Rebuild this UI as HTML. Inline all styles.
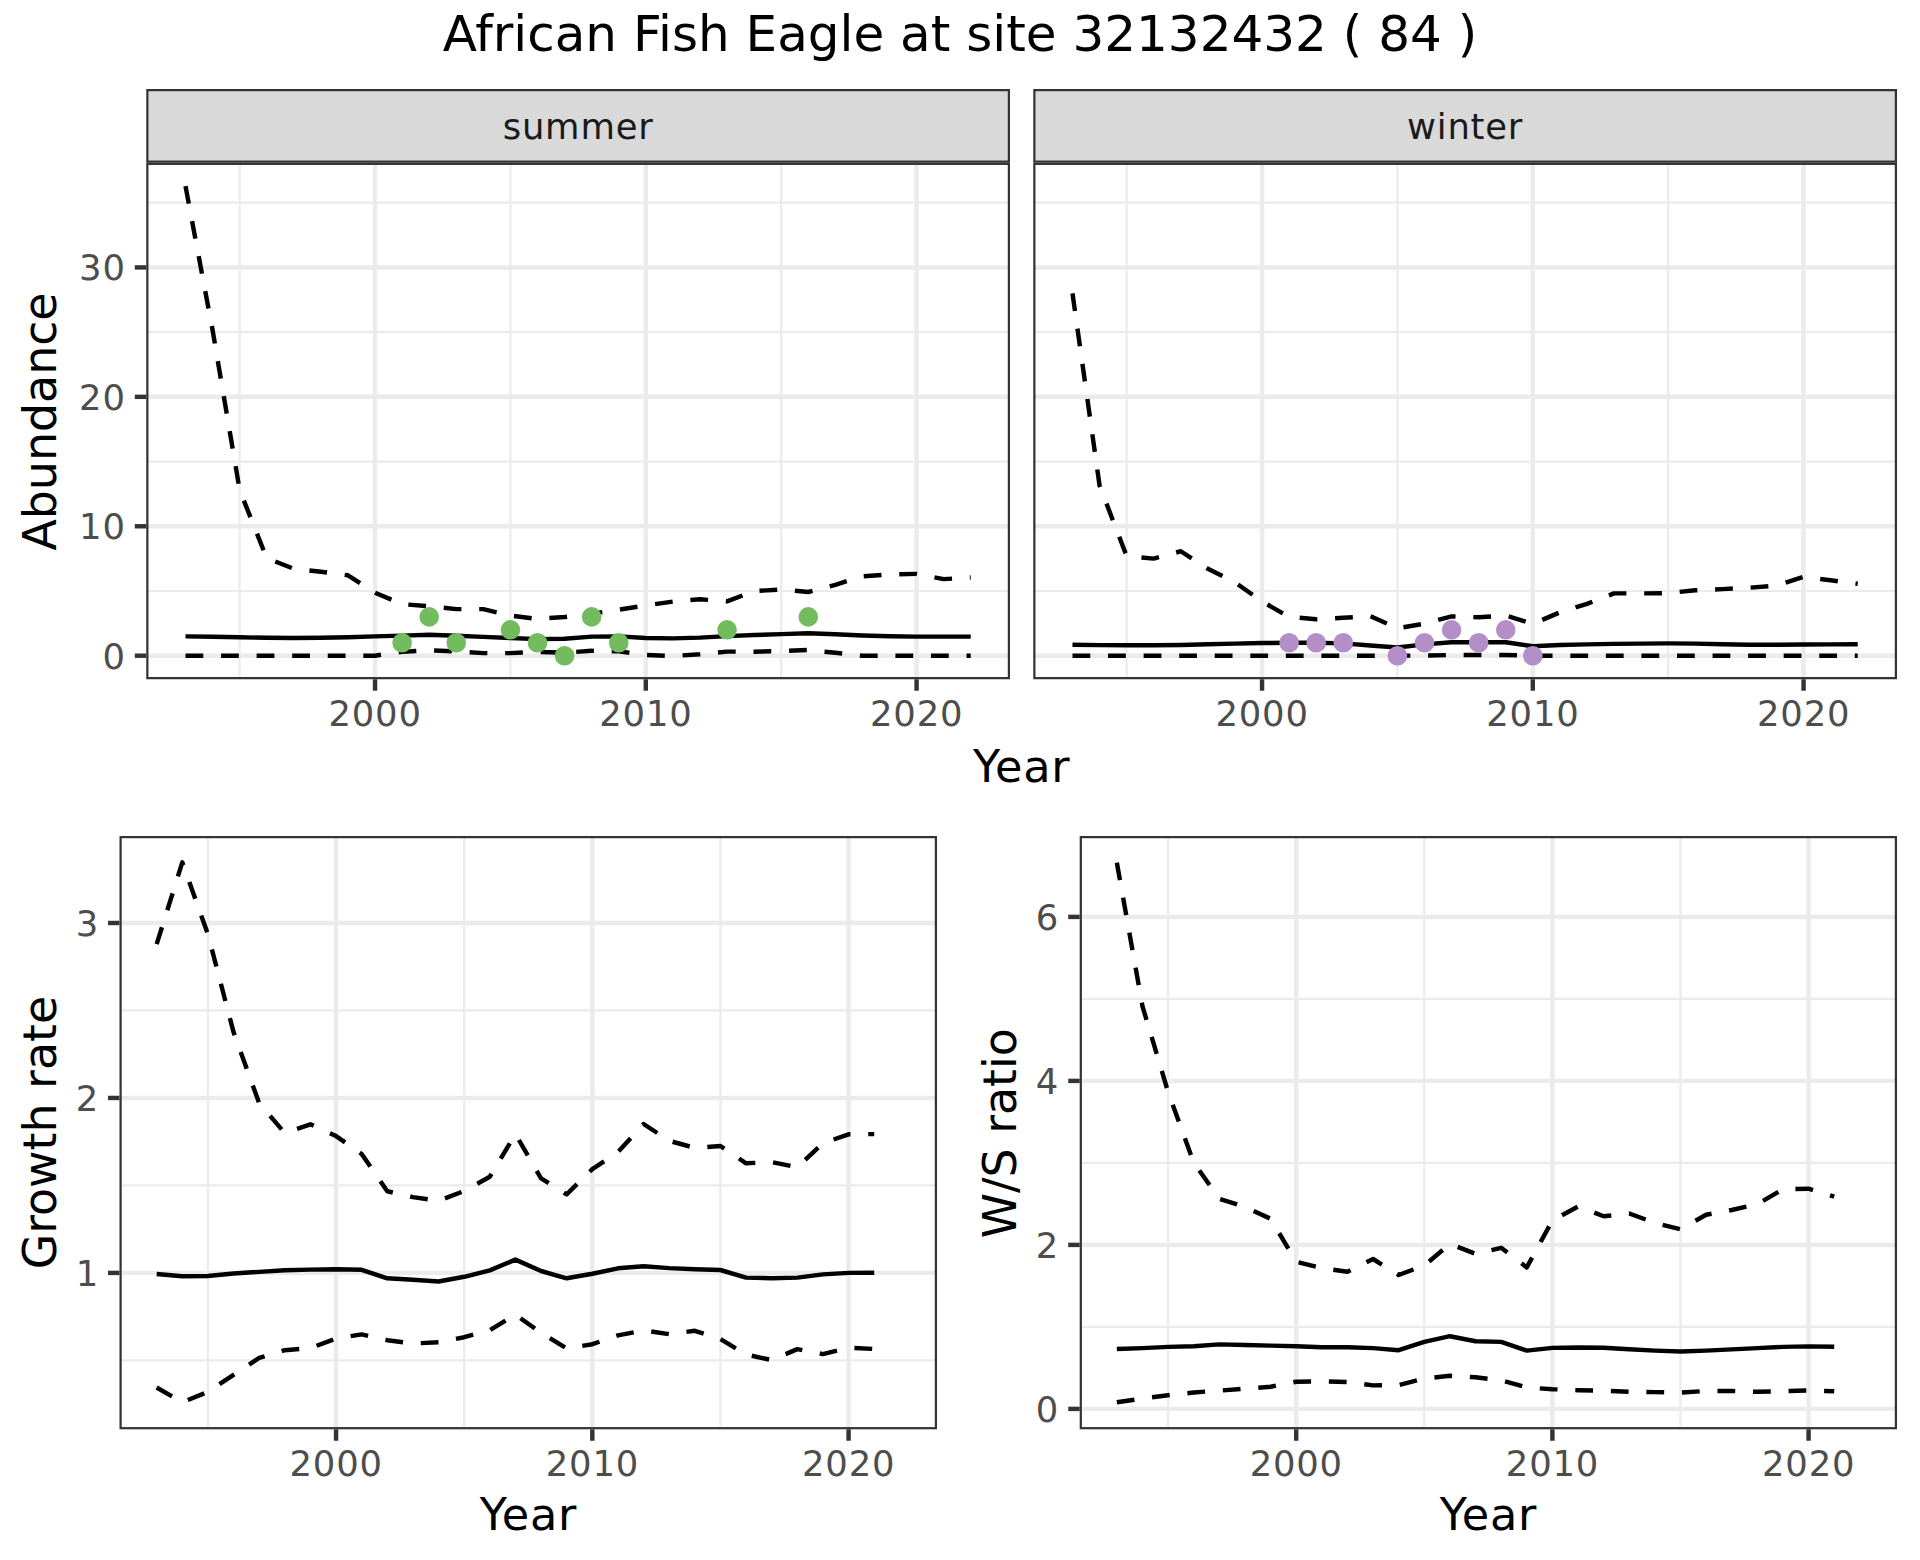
<!DOCTYPE html>
<html lang="en"><head><meta charset="utf-8"><title>African Fish Eagle at site 32132432</title>
<style>html,body{margin:0;padding:0;background:#fff}body{width:1920px;height:1560px;overflow:hidden}svg{display:block}text{font-family:'DejaVu Sans','Liberation Sans',sans-serif}</style>
</head><body>
<svg width="1920" height="1560" viewBox="0 0 1920 1560">
<rect width="1920" height="1560" fill="#fff"/>
<text x="960" y="51.1" text-anchor="middle" font-size="50" fill="#000">African Fish Eagle at site 32132432 ( 84 )</text>
<g>
<rect x="146.25" y="162.75" width="863.75" height="516.5" fill="#fff"/>
<line x1="146.25" x2="1010" y1="590.99" y2="590.99" stroke="#EBEBEB" stroke-width="2.22"/>
<line x1="146.25" x2="1010" y1="461.56" y2="461.56" stroke="#EBEBEB" stroke-width="2.22"/>
<line x1="146.25" x2="1010" y1="332.13" y2="332.13" stroke="#EBEBEB" stroke-width="2.22"/>
<line x1="146.25" x2="1010" y1="202.7" y2="202.7" stroke="#EBEBEB" stroke-width="2.22"/>
<line x1="239.65" x2="239.65" y1="162.75" y2="679.25" stroke="#EBEBEB" stroke-width="2.22"/>
<line x1="510.42" x2="510.42" y1="162.75" y2="679.25" stroke="#EBEBEB" stroke-width="2.22"/>
<line x1="781.19" x2="781.19" y1="162.75" y2="679.25" stroke="#EBEBEB" stroke-width="2.22"/>
<line x1="146.25" x2="1010" y1="655.7" y2="655.7" stroke="#EBEBEB" stroke-width="4.44"/>
<line x1="146.25" x2="1010" y1="526.27" y2="526.27" stroke="#EBEBEB" stroke-width="4.44"/>
<line x1="146.25" x2="1010" y1="396.84" y2="396.84" stroke="#EBEBEB" stroke-width="4.44"/>
<line x1="146.25" x2="1010" y1="267.41" y2="267.41" stroke="#EBEBEB" stroke-width="4.44"/>
<line x1="375.04" x2="375.04" y1="162.75" y2="679.25" stroke="#EBEBEB" stroke-width="4.44"/>
<line x1="645.81" x2="645.81" y1="162.75" y2="679.25" stroke="#EBEBEB" stroke-width="4.44"/>
<line x1="916.58" x2="916.58" y1="162.75" y2="679.25" stroke="#EBEBEB" stroke-width="4.44"/>
<polyline points="185.5,636.4 212.58,636.8 239.65,637.3 266.73,637.8 293.81,638 320.88,637.8 347.96,637.2 375.04,636.4 402.12,635.6 429.19,634.8 456.27,635.8 483.35,636.9 510.42,638 537.5,639.1 564.58,638.75 591.65,636.6 618.73,636.4 645.81,638 672.89,638.4 699.96,637.6 727.04,636.1 754.12,635 781.19,634.1 808.27,633.3 835.35,634.2 862.43,635.5 889.5,636.25 916.58,636.6 943.66,636.6 970.73,636.6" fill="none" stroke="#000" stroke-width="4.44" stroke-linejoin="round" stroke-linecap="butt"/>
<polyline points="185.5,655.7 212.58,655.7 239.65,655.7 266.73,655.7 293.81,655.7 320.88,655.7 347.96,655.7 375.04,655.7 402.12,651.7 429.19,650.3 456.27,651.4 483.35,653.1 510.42,653.1 537.5,651.9 564.58,652.7 591.65,650.8 618.73,651.4 645.81,655 672.89,656 699.96,654.3 727.04,651.6 754.12,651.7 781.19,651.1 808.27,650 835.35,652.8 862.43,655.7 889.5,655.7 916.58,655.7 943.66,655.7 970.73,655.7" fill="none" stroke="#000" stroke-width="4.44" stroke-linejoin="round" stroke-linecap="butt" stroke-dasharray="17.78 17.78"/>
<polyline points="185.5,186.2 212.58,330 239.65,490 266.73,558.2 293.81,568.8 320.88,571.7 347.96,575.3 375.04,592.8 402.12,604.1 429.19,606.3 456.27,609.1 483.35,609.1 510.42,615.6 537.5,618.9 564.58,617 591.65,613.75 618.73,609.7 645.81,605.5 672.89,601.6 699.96,599.2 727.04,601.4 754.12,591.1 781.19,589.5 808.27,592 835.35,584.8 862.43,576.25 889.5,574.5 916.58,573.9 943.66,579.1 970.73,577.5" fill="none" stroke="#000" stroke-width="4.44" stroke-linejoin="round" stroke-linecap="butt" stroke-dasharray="17.78 17.78"/>
<circle cx="402.12" cy="642.76" r="9.8" fill="#72BC5F"/>
<circle cx="429.19" cy="616.87" r="9.8" fill="#72BC5F"/>
<circle cx="456.27" cy="642.76" r="9.8" fill="#72BC5F"/>
<circle cx="510.42" cy="629.81" r="9.8" fill="#72BC5F"/>
<circle cx="537.5" cy="642.76" r="9.8" fill="#72BC5F"/>
<circle cx="564.58" cy="655.7" r="9.8" fill="#72BC5F"/>
<circle cx="591.65" cy="616.87" r="9.8" fill="#72BC5F"/>
<circle cx="618.73" cy="642.76" r="9.8" fill="#72BC5F"/>
<circle cx="727.04" cy="629.81" r="9.8" fill="#72BC5F"/>
<circle cx="808.27" cy="616.87" r="9.8" fill="#72BC5F"/>
<rect x="147.36" y="163.86" width="861.53" height="514.28" fill="none" stroke="#333333" stroke-width="2.22"/>
<rect x="147.36" y="90.11" width="861.53" height="71.53" fill="#D9D9D9" stroke="#333333" stroke-width="2.22"/>
<text x="578.12" y="139.0" text-anchor="middle" font-size="35.4" letter-spacing="0.8" fill="#1A1A1A">summer</text>
<line x1="375.04" x2="375.04" y1="679.25" y2="690.71" stroke="#333333" stroke-width="4.44"/>
<text x="375.14" y="726.3" text-anchor="middle" font-size="35.4" letter-spacing="0.8" fill="#4D4D4D">2000</text>
<line x1="645.81" x2="645.81" y1="679.25" y2="690.71" stroke="#333333" stroke-width="4.44"/>
<text x="645.91" y="726.3" text-anchor="middle" font-size="35.4" letter-spacing="0.8" fill="#4D4D4D">2010</text>
<line x1="916.58" x2="916.58" y1="679.25" y2="690.71" stroke="#333333" stroke-width="4.44"/>
<text x="916.68" y="726.3" text-anchor="middle" font-size="35.4" letter-spacing="0.8" fill="#4D4D4D">2020</text>
</g>
<g>
<rect x="1033.25" y="162.75" width="863.75" height="516.5" fill="#fff"/>
<line x1="1033.25" x2="1897" y1="590.99" y2="590.99" stroke="#EBEBEB" stroke-width="2.22"/>
<line x1="1033.25" x2="1897" y1="461.56" y2="461.56" stroke="#EBEBEB" stroke-width="2.22"/>
<line x1="1033.25" x2="1897" y1="332.13" y2="332.13" stroke="#EBEBEB" stroke-width="2.22"/>
<line x1="1033.25" x2="1897" y1="202.7" y2="202.7" stroke="#EBEBEB" stroke-width="2.22"/>
<line x1="1126.65" x2="1126.65" y1="162.75" y2="679.25" stroke="#EBEBEB" stroke-width="2.22"/>
<line x1="1397.42" x2="1397.42" y1="162.75" y2="679.25" stroke="#EBEBEB" stroke-width="2.22"/>
<line x1="1668.19" x2="1668.19" y1="162.75" y2="679.25" stroke="#EBEBEB" stroke-width="2.22"/>
<line x1="1033.25" x2="1897" y1="655.7" y2="655.7" stroke="#EBEBEB" stroke-width="4.44"/>
<line x1="1033.25" x2="1897" y1="526.27" y2="526.27" stroke="#EBEBEB" stroke-width="4.44"/>
<line x1="1033.25" x2="1897" y1="396.84" y2="396.84" stroke="#EBEBEB" stroke-width="4.44"/>
<line x1="1033.25" x2="1897" y1="267.41" y2="267.41" stroke="#EBEBEB" stroke-width="4.44"/>
<line x1="1262.04" x2="1262.04" y1="162.75" y2="679.25" stroke="#EBEBEB" stroke-width="4.44"/>
<line x1="1532.81" x2="1532.81" y1="162.75" y2="679.25" stroke="#EBEBEB" stroke-width="4.44"/>
<line x1="1803.58" x2="1803.58" y1="162.75" y2="679.25" stroke="#EBEBEB" stroke-width="4.44"/>
<polyline points="1072.5,644.8 1099.58,645.1 1126.65,645.3 1153.73,645.2 1180.81,645 1207.88,644.3 1234.96,643.6 1262.04,643 1289.12,642.8 1316.19,642.8 1343.27,643.4 1370.35,645.5 1397.42,647.5 1424.5,644.4 1451.58,642.3 1478.65,642.3 1505.73,642.3 1532.81,646.25 1559.89,645 1586.96,644.4 1614.04,643.9 1641.12,643.6 1668.19,643.4 1695.27,643.6 1722.35,644.2 1749.43,644.7 1776.5,644.7 1803.58,644.5 1830.66,644.4 1857.73,644.2" fill="none" stroke="#000" stroke-width="4.44" stroke-linejoin="round" stroke-linecap="butt"/>
<polyline points="1072.5,655.7 1099.58,655.7 1126.65,655.7 1153.73,655.7 1180.81,655.7 1207.88,655.7 1234.96,655.7 1262.04,655.7 1289.12,655.7 1316.19,655.7 1343.27,655.7 1370.35,655.7 1397.42,655.7 1424.5,655.6 1451.58,655 1478.65,655 1505.73,655 1532.81,655.7 1559.89,655.7 1586.96,655.7 1614.04,655.7 1641.12,655.7 1668.19,655.7 1695.27,655.7 1722.35,655.7 1749.43,655.7 1776.5,655.7 1803.58,655.7 1830.66,655.7 1857.73,655.7" fill="none" stroke="#000" stroke-width="4.44" stroke-linejoin="round" stroke-linecap="butt" stroke-dasharray="17.78 17.78"/>
<polyline points="1072.5,293.4 1099.58,485.6 1126.65,556.1 1153.73,558.6 1180.81,551.25 1207.88,568.75 1234.96,582.3 1262.04,601.4 1289.12,616.9 1316.19,619.2 1343.27,617.8 1370.35,616.1 1397.42,628.3 1424.5,623.6 1451.58,616.4 1478.65,617.3 1505.73,615.5 1532.81,623.9 1559.89,612.3 1586.96,603.9 1614.04,593.4 1641.12,593.4 1668.19,593.1 1695.27,590.3 1722.35,589.1 1749.43,587.7 1776.5,585.5 1803.58,576.9 1830.66,580.3 1857.73,583.75" fill="none" stroke="#000" stroke-width="4.44" stroke-linejoin="round" stroke-linecap="butt" stroke-dasharray="17.78 17.78"/>
<circle cx="1289.12" cy="642.76" r="9.8" fill="#B48FC7"/>
<circle cx="1316.19" cy="642.76" r="9.8" fill="#B48FC7"/>
<circle cx="1343.27" cy="642.76" r="9.8" fill="#B48FC7"/>
<circle cx="1397.42" cy="655.7" r="9.8" fill="#B48FC7"/>
<circle cx="1424.5" cy="642.76" r="9.8" fill="#B48FC7"/>
<circle cx="1451.58" cy="629.81" r="9.8" fill="#B48FC7"/>
<circle cx="1478.65" cy="642.76" r="9.8" fill="#B48FC7"/>
<circle cx="1505.73" cy="629.81" r="9.8" fill="#B48FC7"/>
<circle cx="1532.81" cy="655.7" r="9.8" fill="#B48FC7"/>
<rect x="1034.36" y="163.86" width="861.53" height="514.28" fill="none" stroke="#333333" stroke-width="2.22"/>
<rect x="1034.36" y="90.11" width="861.53" height="71.53" fill="#D9D9D9" stroke="#333333" stroke-width="2.22"/>
<text x="1465.12" y="139.0" text-anchor="middle" font-size="35.4" letter-spacing="0.8" fill="#1A1A1A">winter</text>
<line x1="1262.04" x2="1262.04" y1="679.25" y2="690.71" stroke="#333333" stroke-width="4.44"/>
<text x="1262.14" y="726.3" text-anchor="middle" font-size="35.4" letter-spacing="0.8" fill="#4D4D4D">2000</text>
<line x1="1532.81" x2="1532.81" y1="679.25" y2="690.71" stroke="#333333" stroke-width="4.44"/>
<text x="1532.91" y="726.3" text-anchor="middle" font-size="35.4" letter-spacing="0.8" fill="#4D4D4D">2010</text>
<line x1="1803.58" x2="1803.58" y1="679.25" y2="690.71" stroke="#333333" stroke-width="4.44"/>
<text x="1803.68" y="726.3" text-anchor="middle" font-size="35.4" letter-spacing="0.8" fill="#4D4D4D">2020</text>
</g>
<line x1="134.79" x2="146.25" y1="655.7" y2="655.7" stroke="#333333" stroke-width="4.44"/>
<text x="125.72" y="668.5" text-anchor="end" font-size="35.4" letter-spacing="0.8" fill="#4D4D4D">0</text>
<line x1="134.79" x2="146.25" y1="526.27" y2="526.27" stroke="#333333" stroke-width="4.44"/>
<text x="125.72" y="539.07" text-anchor="end" font-size="35.4" letter-spacing="0.8" fill="#4D4D4D">10</text>
<line x1="134.79" x2="146.25" y1="396.84" y2="396.84" stroke="#333333" stroke-width="4.44"/>
<text x="125.72" y="409.64" text-anchor="end" font-size="35.4" letter-spacing="0.8" fill="#4D4D4D">20</text>
<line x1="134.79" x2="146.25" y1="267.41" y2="267.41" stroke="#333333" stroke-width="4.44"/>
<text x="125.72" y="280.21" text-anchor="end" font-size="35.4" letter-spacing="0.8" fill="#4D4D4D">30</text>
<text transform="translate(56.2,421.5) rotate(-90)" text-anchor="middle" font-size="45.83" fill="#000">Abundance</text>
<text x="1021.6" y="782.25" text-anchor="middle" font-size="44.6" letter-spacing="0.7" fill="#000">Year</text>
<g>
<rect x="119.5" y="836" width="817.5" height="593.3" fill="#fff"/>
<line x1="119.5" x2="937" y1="1360.38" y2="1360.38" stroke="#EBEBEB" stroke-width="2.22"/>
<line x1="119.5" x2="937" y1="1185.43" y2="1185.43" stroke="#EBEBEB" stroke-width="2.22"/>
<line x1="119.5" x2="937" y1="1010.48" y2="1010.48" stroke="#EBEBEB" stroke-width="2.22"/>
<line x1="207.91" x2="207.91" y1="836" y2="1429.3" stroke="#EBEBEB" stroke-width="2.22"/>
<line x1="464.18" x2="464.18" y1="836" y2="1429.3" stroke="#EBEBEB" stroke-width="2.22"/>
<line x1="720.45" x2="720.45" y1="836" y2="1429.3" stroke="#EBEBEB" stroke-width="2.22"/>
<line x1="119.5" x2="937" y1="1272.9" y2="1272.9" stroke="#EBEBEB" stroke-width="4.44"/>
<line x1="119.5" x2="937" y1="1097.95" y2="1097.95" stroke="#EBEBEB" stroke-width="4.44"/>
<line x1="119.5" x2="937" y1="923" y2="923" stroke="#EBEBEB" stroke-width="4.44"/>
<line x1="336.05" x2="336.05" y1="836" y2="1429.3" stroke="#EBEBEB" stroke-width="4.44"/>
<line x1="592.32" x2="592.32" y1="836" y2="1429.3" stroke="#EBEBEB" stroke-width="4.44"/>
<line x1="848.59" x2="848.59" y1="836" y2="1429.3" stroke="#EBEBEB" stroke-width="4.44"/>
<polyline points="156.66,1274 182.29,1276.25 207.91,1276 233.54,1273.5 259.17,1271.9 284.79,1270.2 310.42,1269.6 336.05,1269.2 361.68,1269.8 387.3,1278.3 412.93,1279.8 438.56,1281.5 464.18,1276.8 489.81,1270.4 515.44,1259.6 541.06,1271 566.69,1278.3 592.32,1273.75 617.95,1268.3 643.57,1266.25 669.2,1268.1 694.83,1269.2 720.45,1270 746.08,1277.6 771.71,1278.3 797.33,1277.6 822.96,1274.4 848.59,1272.9 874.22,1272.7" fill="none" stroke="#000" stroke-width="4.44" stroke-linejoin="round" stroke-linecap="butt"/>
<polyline points="156.66,1387.5 182.29,1402.3 207.91,1391.9 233.54,1374.8 259.17,1357.9 284.79,1350.2 310.42,1348.1 336.05,1338.5 361.68,1334.4 387.3,1340.2 412.93,1343.5 438.56,1342.3 464.18,1337.2 489.81,1330.1 515.44,1314.6 541.06,1332.9 566.69,1348.5 592.32,1344.2 617.95,1335.4 643.57,1330.4 669.2,1334.2 694.83,1330.8 720.45,1339.1 746.08,1354.5 771.71,1360.1 797.33,1349.1 822.96,1354.1 848.59,1347.7 874.22,1349" fill="none" stroke="#000" stroke-width="4.44" stroke-linejoin="round" stroke-linecap="butt" stroke-dasharray="17.78 17.78"/>
<polyline points="156.66,944.2 182.29,862.3 207.91,934.2 233.54,1032.1 259.17,1103.1 284.79,1133 310.42,1124.3 336.05,1136.1 361.68,1154 387.3,1191.25 412.93,1197.1 438.56,1200.8 464.18,1191 489.81,1176.7 515.44,1134 541.06,1178.3 566.69,1194.3 592.32,1169.2 617.95,1152.1 643.57,1124 669.2,1140.8 694.83,1147.9 720.45,1146 746.08,1163.3 771.71,1162.1 797.33,1167.2 822.96,1143.2 848.59,1134.3 874.22,1134.1" fill="none" stroke="#000" stroke-width="4.44" stroke-linejoin="round" stroke-linecap="butt" stroke-dasharray="17.78 17.78"/>
<rect x="120.61" y="837.11" width="815.28" height="591.08" fill="none" stroke="#333333" stroke-width="2.22"/>
<line x1="336.05" x2="336.05" y1="1429.3" y2="1440.76" stroke="#333333" stroke-width="4.44"/>
<text x="336.15" y="1476.2" text-anchor="middle" font-size="35.4" letter-spacing="0.8" fill="#4D4D4D">2000</text>
<line x1="592.32" x2="592.32" y1="1429.3" y2="1440.76" stroke="#333333" stroke-width="4.44"/>
<text x="592.42" y="1476.2" text-anchor="middle" font-size="35.4" letter-spacing="0.8" fill="#4D4D4D">2010</text>
<line x1="848.59" x2="848.59" y1="1429.3" y2="1440.76" stroke="#333333" stroke-width="4.44"/>
<text x="848.69" y="1476.2" text-anchor="middle" font-size="35.4" letter-spacing="0.8" fill="#4D4D4D">2020</text>
<line x1="108.04" x2="119.5" y1="1272.9" y2="1272.9" stroke="#333333" stroke-width="4.44"/>
<text x="98.97" y="1285.7" text-anchor="end" font-size="35.4" letter-spacing="0.8" fill="#4D4D4D">1</text>
<line x1="108.04" x2="119.5" y1="1097.95" y2="1097.95" stroke="#333333" stroke-width="4.44"/>
<text x="98.97" y="1110.75" text-anchor="end" font-size="35.4" letter-spacing="0.8" fill="#4D4D4D">2</text>
<line x1="108.04" x2="119.5" y1="923" y2="923" stroke="#333333" stroke-width="4.44"/>
<text x="98.97" y="935.8" text-anchor="end" font-size="35.4" letter-spacing="0.8" fill="#4D4D4D">3</text>
<text transform="translate(56.2,1132.6) rotate(-90)" text-anchor="middle" font-size="45.83" fill="#000">Growth rate</text>
<text x="528.4" y="1529.7" text-anchor="middle" font-size="44.6" letter-spacing="0.7" fill="#000">Year</text>
</g>
<g>
<rect x="1079.7" y="836" width="817.3" height="593.3" fill="#fff"/>
<line x1="1079.7" x2="1897" y1="1326.9" y2="1326.9" stroke="#EBEBEB" stroke-width="2.22"/>
<line x1="1079.7" x2="1897" y1="1162.9" y2="1162.9" stroke="#EBEBEB" stroke-width="2.22"/>
<line x1="1079.7" x2="1897" y1="998.9" y2="998.9" stroke="#EBEBEB" stroke-width="2.22"/>
<line x1="1168.09" x2="1168.09" y1="836" y2="1429.3" stroke="#EBEBEB" stroke-width="2.22"/>
<line x1="1424.29" x2="1424.29" y1="836" y2="1429.3" stroke="#EBEBEB" stroke-width="2.22"/>
<line x1="1680.49" x2="1680.49" y1="836" y2="1429.3" stroke="#EBEBEB" stroke-width="2.22"/>
<line x1="1079.7" x2="1897" y1="1408.9" y2="1408.9" stroke="#EBEBEB" stroke-width="4.44"/>
<line x1="1079.7" x2="1897" y1="1244.9" y2="1244.9" stroke="#EBEBEB" stroke-width="4.44"/>
<line x1="1079.7" x2="1897" y1="1080.9" y2="1080.9" stroke="#EBEBEB" stroke-width="4.44"/>
<line x1="1079.7" x2="1897" y1="916.9" y2="916.9" stroke="#EBEBEB" stroke-width="4.44"/>
<line x1="1296.19" x2="1296.19" y1="836" y2="1429.3" stroke="#EBEBEB" stroke-width="4.44"/>
<line x1="1552.39" x2="1552.39" y1="836" y2="1429.3" stroke="#EBEBEB" stroke-width="4.44"/>
<line x1="1808.59" x2="1808.59" y1="836" y2="1429.3" stroke="#EBEBEB" stroke-width="4.44"/>
<polyline points="1116.85,1349 1142.47,1348.1 1168.09,1346.9 1193.71,1346.25 1219.33,1344.4 1244.95,1345 1270.57,1345.6 1296.19,1346.25 1321.81,1347.3 1347.43,1347.3 1373.05,1348.1 1398.67,1350.2 1424.29,1341.8 1449.91,1336.2 1475.53,1341.25 1501.15,1341.9 1526.77,1350.6 1552.39,1347.9 1578.01,1347.5 1603.63,1347.7 1629.25,1349.2 1654.87,1350.6 1680.49,1351.5 1706.11,1350.6 1731.73,1349.4 1757.35,1348.1 1782.97,1346.9 1808.59,1346.4 1834.21,1346.7" fill="none" stroke="#000" stroke-width="4.44" stroke-linejoin="round" stroke-linecap="butt"/>
<polyline points="1116.85,1402.3 1142.47,1398.5 1168.09,1395.2 1193.71,1392.5 1219.33,1390.6 1244.95,1388.75 1270.57,1386.7 1296.19,1381.7 1321.81,1381.25 1347.43,1382.1 1373.05,1385.4 1398.67,1385.2 1424.29,1378.5 1449.91,1375.8 1475.53,1377.3 1501.15,1380.4 1526.77,1387.5 1552.39,1389.2 1578.01,1390.2 1603.63,1390.8 1629.25,1391.7 1654.87,1392.1 1680.49,1392.6 1706.11,1391 1731.73,1391 1757.35,1391.8 1782.97,1391.25 1808.59,1390.5 1834.21,1391.3" fill="none" stroke="#000" stroke-width="4.44" stroke-linejoin="round" stroke-linecap="butt" stroke-dasharray="17.78 17.78"/>
<polyline points="1116.85,862.7 1142.47,1006.25 1168.09,1092 1193.71,1162.5 1219.33,1198.75 1244.95,1206.9 1270.57,1218.75 1296.19,1261.7 1321.81,1268.1 1347.43,1271.7 1373.05,1259 1398.67,1275 1424.29,1265.5 1449.91,1243.9 1475.53,1253.9 1501.15,1247.8 1526.77,1267.4 1552.39,1220.4 1578.01,1206.5 1603.63,1216.25 1629.25,1213.5 1654.87,1222.9 1680.49,1229.2 1706.11,1214.8 1731.73,1210 1757.35,1204.2 1782.97,1189.2 1808.59,1188.7 1834.21,1196.7" fill="none" stroke="#000" stroke-width="4.44" stroke-linejoin="round" stroke-linecap="butt" stroke-dasharray="17.78 17.78"/>
<rect x="1080.81" y="837.11" width="815.08" height="591.08" fill="none" stroke="#333333" stroke-width="2.22"/>
<line x1="1296.19" x2="1296.19" y1="1429.3" y2="1440.76" stroke="#333333" stroke-width="4.44"/>
<text x="1296.29" y="1476.2" text-anchor="middle" font-size="35.4" letter-spacing="0.8" fill="#4D4D4D">2000</text>
<line x1="1552.39" x2="1552.39" y1="1429.3" y2="1440.76" stroke="#333333" stroke-width="4.44"/>
<text x="1552.49" y="1476.2" text-anchor="middle" font-size="35.4" letter-spacing="0.8" fill="#4D4D4D">2010</text>
<line x1="1808.59" x2="1808.59" y1="1429.3" y2="1440.76" stroke="#333333" stroke-width="4.44"/>
<text x="1808.69" y="1476.2" text-anchor="middle" font-size="35.4" letter-spacing="0.8" fill="#4D4D4D">2020</text>
<line x1="1068.24" x2="1079.7" y1="1408.9" y2="1408.9" stroke="#333333" stroke-width="4.44"/>
<text x="1059.17" y="1421.7" text-anchor="end" font-size="35.4" letter-spacing="0.8" fill="#4D4D4D">0</text>
<line x1="1068.24" x2="1079.7" y1="1244.9" y2="1244.9" stroke="#333333" stroke-width="4.44"/>
<text x="1059.17" y="1257.7" text-anchor="end" font-size="35.4" letter-spacing="0.8" fill="#4D4D4D">2</text>
<line x1="1068.24" x2="1079.7" y1="1080.9" y2="1080.9" stroke="#333333" stroke-width="4.44"/>
<text x="1059.17" y="1093.7" text-anchor="end" font-size="35.4" letter-spacing="0.8" fill="#4D4D4D">4</text>
<line x1="1068.24" x2="1079.7" y1="916.9" y2="916.9" stroke="#333333" stroke-width="4.44"/>
<text x="1059.17" y="929.7" text-anchor="end" font-size="35.4" letter-spacing="0.8" fill="#4D4D4D">6</text>
<text transform="translate(1016.2,1133.2) rotate(-90)" text-anchor="middle" font-size="45.83" fill="#000">W/S ratio</text>
<text x="1488.4" y="1529.7" text-anchor="middle" font-size="44.6" letter-spacing="0.7" fill="#000">Year</text>
</g>
</svg>
</body></html>
